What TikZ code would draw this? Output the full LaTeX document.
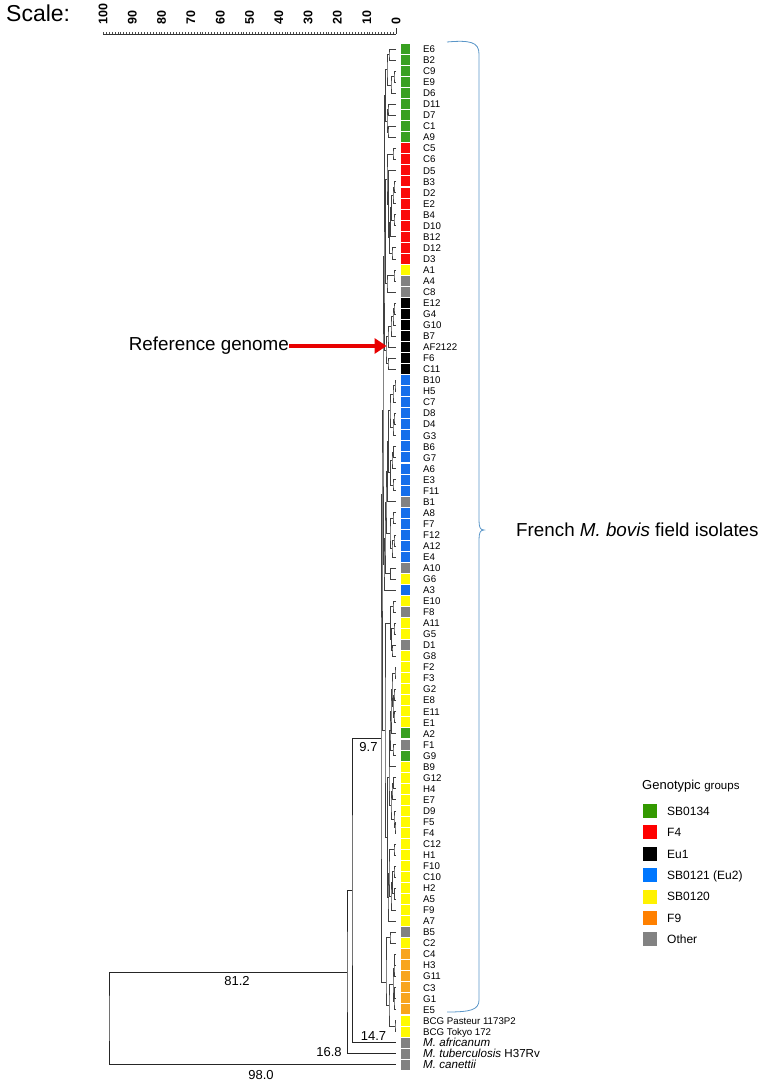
\documentclass[tikz,border=0pt]{standalone}
\usepackage{fontspec}
\setmainfont{Liberation Sans}
\usetikzlibrary{calc, arrows.meta}
\definecolor{cgreen}{RGB}{56,160,32}
\definecolor{cred}{RGB}{250,10,10}
\definecolor{cblue}{RGB}{20,110,235}
\definecolor{cyellow}{RGB}{255,250,0}
\definecolor{corange}{RGB}{248,165,30}
\definecolor{cgray}{RGB}{130,130,130}
\definecolor{lgreen}{RGB}{51,153,0}
\definecolor{lblue}{RGB}{0,119,255}
\definecolor{lorange}{RGB}{255,128,0}
\definecolor{refred}{RGB}{232,0,0}
\definecolor{bracecol}{RGB}{90,150,200}

% join two children at x (node placed midway)
\newcommand{\jn}[4]{%
  \coordinate (jtmp) at ($(#3)!0.5!(#4)$);
  \coordinate (#1) at (#2,0 |- jtmp);
  \draw[branch] (#3) -| (#1) |- (#4);
}
% join two children at x, y
\newcommand{\jny}[5]{%
  \coordinate (#1) at (#2,#3);
  \draw[branch] (#4) -| (#1) |- (#5);
}
\newcommand{\spec}{\fontsize{11.6}{13}\selectfont\itshape}

\begin{document}
\begin{tikzpicture}[x=1pt, y=-1pt]
    \tikzstyle{branch} = [draw=black!75, line width=0.5pt]
    \tikzstyle{trunk} = [draw=black!85, line width=0.6pt]
    \tikzstyle{leafsq} = [rectangle, minimum width=9.5pt, minimum height=10pt, inner sep=0pt]
    \tikzstyle{leaflab} = [anchor=base west, inner sep=0pt, font=\fontsize{9.7}{11}\selectfont]
    \tikzstyle{scalenum} = [rotate=90, anchor=west, inner sep=0pt, font=\fontsize{12.5}{14}\selectfont\bfseries]
    \tikzstyle{distlab} = [inner sep=0pt, font=\fontsize{13}{15}\selectfont]
    \tikzstyle{biglab} = [inner sep=0pt, font=\fontsize{18.8}{22}\selectfont]
    \tikzstyle{legsq} = [rectangle, minimum size=14pt, inner sep=0pt]
    \tikzstyle{legtext} = [anchor=base west, inner sep=0pt, font=\fontsize{12}{14}\selectfont]
    \tikzstyle{refarrow} = [line width=4.5pt, draw=refred, -{Triangle[length=12pt, width=15pt]}]

    \useasboundingbox (0,0) rectangle (770,1083);

    % Scale
    \node[inner sep=0pt, anchor=west, font=\fontsize{23}{26}\selectfont] (scaletitle) at (6,13.5) {Scale:};
    \draw[line width=0.4pt, black!80] (103,34) -- (396,34);
    \foreach \v in {0,...,100}
        \draw[line width=0.3pt, black!70] ({396-2.93*\v},34) -- ++(0,-1.6);
    \draw[line width=0.5pt, black!80] (396,34) -- (396,28);
    \foreach \v in {0,10,...,100}
        \node[scalenum] (sn\v) at ({396-2.93*\v},25) {\v};

    % Leaves
    \foreach \lab/\col [count=\i] in {E6/cgreen, B2/cgreen, C9/cgreen, E9/cgreen, D6/cgreen, D11/cgreen, D7/cgreen, C1/cgreen, A9/cgreen,
        C5/cred, C6/cred, D5/cred, B3/cred, D2/cred, E2/cred, B4/cred, D10/cred, B12/cred, D12/cred, D3/cred,
        A1/cyellow, A4/cgray, C8/cgray,
        E12/black, G4/black, G10/black, B7/black, AF2122/black, F6/black, C11/black,
        B10/cblue, H5/cblue, C7/cblue, D8/cblue, D4/cblue, G3/cblue, B6/cblue, G7/cblue, A6/cblue, E3/cblue,
        F11/cblue, B1/cgray, A8/cblue, F7/cblue, F12/cblue, A12/cblue, E4/cblue, A10/cgray, G6/cyellow, A3/cblue,
        E10/cyellow, F8/cgray, A11/cyellow, G5/cyellow, D1/cgray, G8/cyellow,
        F2/cyellow, F3/cyellow, G2/cyellow, E8/cyellow, E11/cyellow, E1/cyellow, A2/cgreen, F1/cgray, G9/cgreen,
        B9/cyellow, G12/cyellow, H4/cyellow, E7/cyellow, D9/cyellow, F5/cyellow, F4/cyellow,
        C12/cyellow, H1/cyellow, F10/cyellow, C10/cyellow, H2/cyellow, A5/cyellow, F9/cyellow, A7/cyellow, B5/cgray, C2/cyellow,
        C4/corange, H3/corange, G11/corange, C3/corange, G1/corange, E5/corange,
        {BCG Pasteur 1173P2}/cyellow, {BCG Tokyo 172}/cyellow,
        {{\spec M. africanum}}/cgray, {{\spec M. tuberculosis \upshape H37Rv}}/cgray, {{\spec M. canettii}}/cgray}
    {
        \coordinate (l\i) at (396,{49+(\i-1)*11.04});
        \node[leafsq, fill=\col] (sq\i) at (405.5,{49+(\i-1)*11.04}) {};
        \node[leaflab] (lab\i) at (423,{49+(\i-1)*11.04+3.6}) {\lab};
    }

    % SB0134
    \jn{g12}{389}{l1}{l2}
    \jn{g34}{394}{l3}{l4}
    \jn{g35}{391}{g34}{l5}
    \jn{g15}{387}{g12}{g35}
    \jn{g67}{388}{l6}{l7}
    \jn{g89}{388}{l8}{l9}
    \jn{g69}{387}{g67}{g89}
    \jn{gr}{385.5}{g15}{g69}
    % F4
    \jn{r1}{393}{l10}{l11}
    \jn{r2}{394}{l13}{l14}
    \jn{r3}{393}{r2}{l15}
    \jn{r4}{394}{l16}{l17}
    \jn{r5}{391.5}{r3}{r4}
    \jn{r6}{390.5}{r5}{l18}
    \jn{r7}{392}{l19}{l20}
    \jn{r8}{389.5}{r6}{r7}
    \jn{r9}{388.5}{l12}{r8}
    \jn{r10}{387}{r1}{r9}
    \jn{a1}{394}{l21}{l22}
    \jn{a2}{387}{a1}{l23}
    \jn{r11}{385.5}{r10}{a2}
    \jn{u1}{384.5}{gr}{r11}
    % Eu1
    \jn{k1}{394}{l24}{l25}
    \jn{k2}{393}{k1}{l26}
    \jn{k3}{391}{k2}{l27}
    \jn{k4}{388}{k3}{l28}
    \jn{k5}{388}{l29}{l30}
    \jn{k6}{386}{k4}{k5}
    \jn{u2}{384}{u1}{k6}
    % SB0121 (Eu2)
    \jn{b1}{395}{l31}{l32}
    \jn{b2}{393}{b1}{l33}
    \jn{b3}{394}{l34}{l35}
    \jn{b4}{393}{b3}{l36}
    \jn{b5}{390}{b2}{b4}
    \jn{b6}{393.5}{l37}{l38}
    \jn{b7}{392}{b6}{l39}
    \jn{b8}{393}{l40}{l41}
    \jn{b9}{390.5}{b7}{b8}
    \jn{b10}{388.5}{b5}{b9}
    \jn{b11}{387.5}{b10}{l42}
    \jn{b12}{393}{l43}{l44}
    \jn{b13}{394}{l45}{l46}
    \jn{b14}{392}{b13}{l47}
    \jn{b15}{390}{b12}{b14}
    \jn{b16}{386}{b11}{b15}
    \jn{b17}{390.5}{l48}{l49}
    \jn{b18}{385}{b16}{b17}
    \jn{b19}{384}{b18}{l50}
    \jn{aa}{383}{u2}{b19}
    % SB0120
    \jn{c1}{393}{l51}{l52}
    \jn{c2}{394}{l53}{l54}
    \jn{c4}{392}{l55}{l56}
    \jn{c3}{391.5}{c2}{c4}
    \jn{c5}{390.5}{c1}{c3}
    \jn{d1}{395}{l57}{l58}
    \jn{d2}{394}{l59}{l60}
    \jn{d3}{394}{l61}{l62}
    \jn{d4}{393}{d2}{d3}
    \jn{d5}{392}{d1}{d4}
    \jn{d6}{391}{d5}{l63}
    \jn{d7}{393}{l64}{l65}
    \jn{e1}{390}{d6}{d7}
    \jn{e2}{389.5}{e1}{l66}
    \jn{d8}{393.5}{l67}{l68}
    \jn{e3}{392}{d8}{l69}
    \jn{d9}{395}{l71}{l72}
    \jn{d10}{394}{l70}{d9}
    \jn{e4}{391}{e3}{d10}
    \jn{e5}{389}{e2}{e4}
    \jn{d11}{394}{l73}{l74}
    \jn{d12}{394}{l75}{l76}
    \jn{d13}{394.5}{l77}{l78}
    \jn{d14}{392.5}{d12}{d13}
    \jn{d15}{391}{d14}{l79}
    \jn{e6}{389}{d11}{d15}
    \jn{e7}{388}{e6}{l80}
    \jn{e8}{387.5}{e5}{e7}
    \jn{e9}{385}{c5}{e8}
    \jny{xx}{382}{494}{aa}{e9}
    % F9 and BCG
    \jn{f1}{390}{l81}{l82}
    \jn{o1}{394.5}{l83}{l84}
    \jn{o2}{394}{o1}{l85}
    \jn{o3}{394.5}{l86}{l87}
    \jn{o4}{394}{o3}{l88}
    \jn{o5}{393}{o2}{o4}
    \jn{o6}{395}{l89}{l90}
    \jn{zz}{389}{o5}{o6}
    \jny{yy}{386}{982}{f1}{zz}
    \jny{tt}{381}{738}{xx}{yy}

    % Outgroups
    \coordinate (n16) at (352,{0.5*(738+49+90*11.04)});
    \draw[trunk] (tt) -| (n16) |- (l91);
    \coordinate (n81) at (347,{0.5*(0.5*(738+49+90*11.04)+49+91*11.04)});
    \draw[trunk] (n16) -| (n81) |- (l92);
    \coordinate (root) at (109,{0.5*(0.5*(0.5*(738+49+90*11.04)+49+91*11.04)+49+92*11.04)});
    \draw[trunk] (n81) -| (root) |- (l93);

    % Distances
    \node[distlab] (d97) at (368.5,747) {9.7};
    \node[distlab] (d147) at (373.5,1036) {14.7};
    \node[distlab] (d168) at (329,1052) {16.8};
    \node[distlab] (d812) at (237,981) {81.2};
    \node[distlab] (d980) at (261,1075) {98.0};

    % Reference genome
    \node[biglab, anchor=east] (reflab) at (289,346) {Reference genome};
    \coordinate (reftip) at (386.5,346);
    \draw[refarrow] (reflab.east) -- (reftip);

    % Brace
    \draw[bracecol, line width=0.8pt] (447,42) .. controls (470,40) and (479,42) .. (479,54)
        -- (479,520) .. controls (479,527) and (480,530) .. (484,530)
        .. controls (480,530) and (479,533) .. (479,540)
        -- (479,1000) .. controls (479,1010) and (470,1012) .. (447,1012);
    \node[biglab, anchor=west] (french) at (516,530) {French \textit{M. bovis} field isolates};

    % Legend
    \node[inner sep=0pt, anchor=base west, font=\fontsize{13}{15}\selectfont] (legend) at (642,789.5)
        {Genotypic {\fontsize{11.5}{13}\selectfont groups}};
    \foreach \lab/\col [count=\k] in {SB0134/lgreen, F4/red, Eu1/black, {SB0121 (Eu2)}/lblue, SB0120/yellow, F9/lorange, Other/cgray}
    {
        \node[legsq, fill=\col] (lsq\k) at (650,{811+(\k-1)*21.4}) {};
        \node[legtext] (ltx\k) at (667,{811+(\k-1)*21.4+4.3}) {\lab};
    }
\end{tikzpicture}
\end{document}
